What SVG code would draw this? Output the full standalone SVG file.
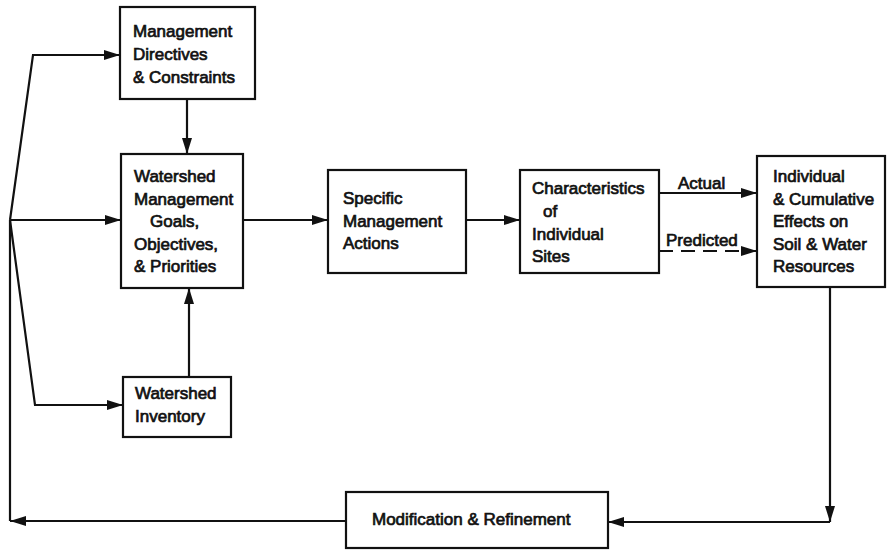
<svg xmlns="http://www.w3.org/2000/svg" width="887" height="550" viewBox="0 0 887 550">
  <style>
    .box { fill: #fff; stroke: #111; stroke-width: 2.2; }
    .lbl { font-family: "Liberation Sans", Arial, Helvetica, sans-serif; font-size: 17px; fill: #111; stroke: #111; stroke-width: 0.7; }
    .wire { fill: none; stroke: #111; stroke-width: 2.2; }
    .arr { marker-end: url(#head); }
    .dash { stroke-dasharray: 14 8; }
  </style>
  <defs>
    <marker id="head" markerUnits="userSpaceOnUse" markerWidth="18" markerHeight="12" refX="16" refY="5" orient="auto">
      <path d="M0,0 L16,5 L0,10 z" fill="#111"/>
    </marker>
  </defs>

  <rect width="887" height="550" fill="#fff"/>

  <!-- connectors -->
  <g id="connectors">
    <path class="wire arr" d="M10,220 L33,55 L120,55"/>
    <path class="wire arr" d="M10,220 L121,220"/>
    <path class="wire arr" d="M10,220 L35,405 L123,405"/>
    <path class="wire arr" d="M187,99 L187,154"/>
    <path class="wire arr" d="M189,377 L189,288"/>
    <path class="wire arr" d="M243,220 L328,220"/>
    <path class="wire arr" d="M466,220 L520,220"/>
    <path class="wire arr" d="M659,193 L757,193"/>
    <path class="wire arr dash" d="M659,251 L757,251"/>
    <path class="wire arr" d="M830,287 L830,522"/>
    <path class="wire arr" d="M830,522 L608,522"/>
    <path class="wire" d="M10,220 L10,521"/>
    <path class="wire arr" d="M346,521 L10,521"/>
    <text class="lbl" x="678" y="189">Actual</text>
    <text class="lbl" x="666" y="246">Predicted</text>
  </g>

  <g id="directives">
    <rect class="box" x="120" y="7" width="135" height="92"/>
    <text class="lbl" x="133" y="37">Management</text>
    <text class="lbl" x="133" y="60">Directives</text>
    <text class="lbl" x="133" y="83">&amp; Constraints</text>
  </g>

  <g id="goals">
    <rect class="box" x="121" y="154" width="122" height="134"/>
    <text class="lbl" x="134" y="182">Watershed</text>
    <text class="lbl" x="134" y="205">Management</text>
    <text class="lbl" x="150" y="227">Goals,</text>
    <text class="lbl" x="134" y="250">Objectives,</text>
    <text class="lbl" x="134" y="272">&amp; Priorities</text>
  </g>

  <g id="inventory">
    <rect class="box" x="123" y="377" width="108" height="60"/>
    <text class="lbl" x="135" y="399">Watershed</text>
    <text class="lbl" x="135" y="422">Inventory</text>
  </g>

  <g id="actions">
    <rect class="box" x="328" y="170" width="138" height="103"/>
    <text class="lbl" x="343" y="204">Specific</text>
    <text class="lbl" x="343" y="227">Management</text>
    <text class="lbl" x="343" y="249">Actions</text>
  </g>

  <g id="sites">
    <rect class="box" x="520" y="170" width="139" height="103"/>
    <text class="lbl" x="532" y="194">Characteristics</text>
    <text class="lbl" x="543" y="217">of</text>
    <text class="lbl" x="532" y="240">Individual</text>
    <text class="lbl" x="532" y="262">Sites</text>
  </g>

  <g id="effects">
    <rect class="box" x="757" y="156" width="128" height="131"/>
    <text class="lbl" x="773" y="182">Individual</text>
    <text class="lbl" x="773" y="205">&amp; Cumulative</text>
    <text class="lbl" x="773" y="227">Effects on</text>
    <text class="lbl" x="773" y="250">Soil &amp; Water</text>
    <text class="lbl" x="773" y="272">Resources</text>
  </g>

  <g id="refinement">
    <rect class="box" x="346" y="492" width="262" height="56"/>
    <text class="lbl" x="372" y="525">Modification &amp; Refinement</text>
  </g>
</svg>
